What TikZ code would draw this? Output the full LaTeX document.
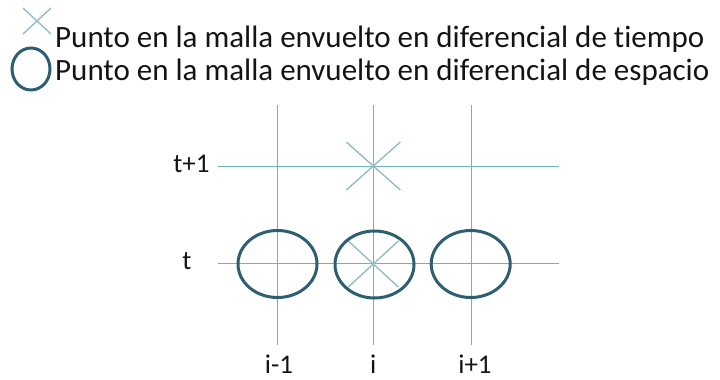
\documentclass[tikz,border=0pt]{standalone}
\usepackage{fontspec}
\setmainfont{Carlito}[Ligatures={NoCommon}]
\usetikzlibrary{calc}
\definecolor{gridc}{HTML}{6CB3C4}
\definecolor{crossc}{HTML}{94BCC8}
\definecolor{ringc}{HTML}{2D5E72}
\definecolor{txtc}{HTML}{141414}
\begin{document}
\begin{tikzpicture}[x=1pt,y=-1pt,
  gridline/.style={draw=gridc,line width=1pt},
  crossline/.style={draw=crossc,line width=1.4pt},
  ring/.style={draw=ringc,line width=3pt},
  legendtext/.style={anchor=base west,inner sep=0pt,text=txtc,font=\fontsize{31}{31}\selectfont},
  axislabel/.style={inner sep=0pt,text=txtc,font=\fontsize{27}{27}\selectfont}]
\useasboundingbox (0,0) rectangle (720,380);
% legend
\draw[crossline] (23,8) -- (51,34);
\draw[crossline] (51,8) -- (23,34);
\draw[ring] (31,69) ellipse [x radius=19, y radius=21];
\node[legendtext] (l1) at (55,47) {Punto en la malla envuelto en diferencial de tiempo};
\node[legendtext] (l2) at (55,80) {Punto en la malla envuelto en diferencial de espacio};
% grid coordinates
\coordinate (v1t) at (277.5,105); \coordinate (v1b) at (277.5,345);
\coordinate (v2t) at (373.3,105); \coordinate (v2b) at (373.3,345);
\coordinate (v3t) at (471.5,105); \coordinate (v3b) at (471.5,345);
\coordinate (h1l) at (218,166); \coordinate (h1r) at (559,166);
\coordinate (h2l) at (218,263.5); \coordinate (h2r) at (559,263.5);
\draw[gridline] (v1t) -- (v1b);
\draw[gridline] (v2t) -- (v2b);
\draw[gridline] (v3t) -- (v3b);
\draw[gridline] (h1l) -- (h1r);
\draw[gridline] (h2l) -- (h2r);
% crosses
\coordinate (xa) at (373.3,166);
\coordinate (xb) at (373.3,264);
\draw[crossline] ($(xa)+(-27,-24)$) -- ($(xa)+(27,24)$);
\draw[crossline] ($(xa)+(27,-24)$) -- ($(xa)+(-27,24)$);
\draw[crossline] ($(xb)+(-25,-23)$) -- ($(xb)+(25,23)$);
\draw[crossline] ($(xb)+(25,-23)$) -- ($(xb)+(-25,23)$);
% rings
\draw[ring] (277.5,264) ellipse [x radius=39.5, y radius=33.5];
\draw[ring] (374.5,264.5) ellipse [x radius=39.5, y radius=33.5];
\draw[ring] (470.7,264) ellipse [x radius=39.5, y radius=33.5];
% labels
\node[axislabel,anchor=base] (tp1) at (191.5,172) {t+1};
\node[axislabel,anchor=base] (t0) at (187,269) {t};
\node[axislabel,anchor=base] (im1) at (279,373) {i-1};
\node[axislabel,anchor=base] (i0) at (373.3,373) {i};
\node[axislabel,anchor=base] (ip1) at (475,373) {i+1};
\end{tikzpicture}
\end{document}
